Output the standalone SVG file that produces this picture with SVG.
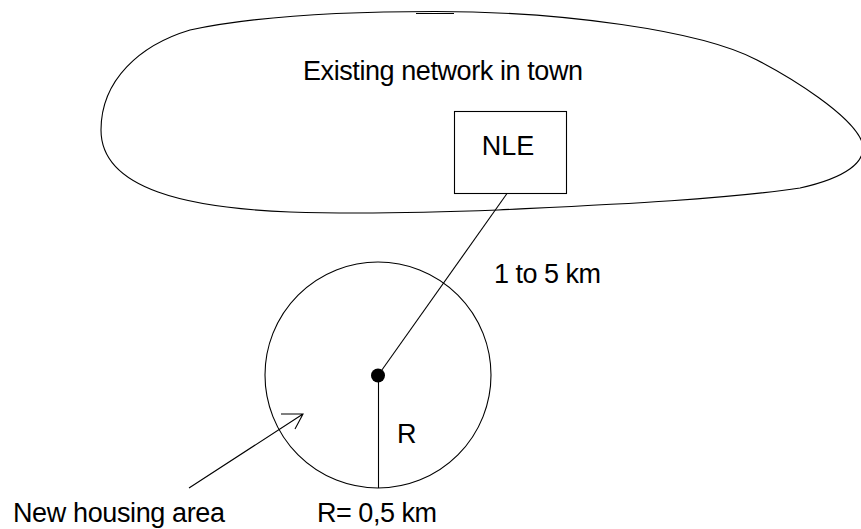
<svg xmlns="http://www.w3.org/2000/svg" width="861" height="529" viewBox="0 0 861 529">
<style>
.s{fill:none;stroke:#000;stroke-width:1.1}
.t{font-family:"Liberation Sans",Arial,sans-serif;font-size:27px;fill:#000}
</style>
<rect width="861" height="529" fill="#fff"/>
<g id="town">
<path class="s" d="M435 11.5 C560 11.5,700 30,757 60 C790 77,852 115,862 142 C868 162,845 178,800 188 C720 200,600 205,498 210 C420 213,350 214,290 212 C190 208,101 190,101 130 C101 80,140 45,190 30 C260 15,360 11.5,435 11.5 Z"/>
<line class="s" x1="416" y1="13.5" x2="454" y2="13.5"/>
<text class="t" x="303" y="80" textLength="280">Existing network in town</text>
</g>
<g id="nle">
<rect class="s" x="454.5" y="111.5" width="112" height="82"/>
<text class="t" x="508" y="155" text-anchor="middle">NLE</text>
</g>
<g id="housing">
<circle class="s" cx="378" cy="375" r="113"/>
<circle cx="378" cy="375.5" r="7" fill="#000"/>
<text class="t" x="397" y="443">R</text>
</g>
<g id="connectors">
<line class="s" x1="378" y1="375.5" x2="507" y2="193.5"/>
<line class="s" x1="378.5" y1="375.5" x2="378.5" y2="488"/>
<path class="s" d="M189 488 L303 414 M281 414 L303 414 L295 429"/>
</g>
<g id="labels">
<text class="t" x="494" y="283" textLength="107">1 to 5 km</text>
<text class="t" x="13" y="521.5" textLength="212">New housing area</text>
<text class="t" x="317" y="521.5" textLength="120">R= 0,5 km</text>
</g>
</svg>
